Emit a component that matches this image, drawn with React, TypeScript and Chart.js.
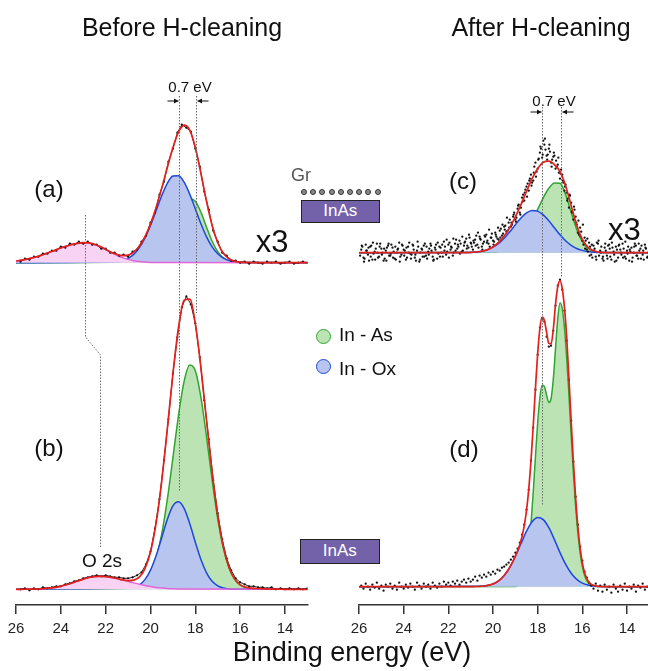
import React, { useEffect, useRef } from "react";
import { Chart, registerables } from "chart.js";
Chart.register(...registerables);

const FONT = '"Liberation Sans", Arial, Helvetica, sans-serif';

// ---------- axis ----------
const tickEnergies = [26, 24, 22, 20, 18, 16, 14];

// ---------- panel (a): before, x3 ----------
const aOxStart = 21.5; // step 0.25 eV
const aInOx = [0.9, 2.0, 4.3, 8.3, 14.8, 24.5, 37.2, 52.0, 66.9, 79.4, 86.6, 87.0, 80.5, 68.6, 53.8, 38.9, 25.8, 15.8, 8.9, 4.6, 2.2, 1.0, 0.3];
const aAsStart = 20.0;
const aInAs = [1.1, 3.1, 7.5, 15.8, 28.4, 43.5, 57.0, 64.0, 61.5, 50.5, 35.5, 21.4, 11.0, 4.8, 1.8, 0.6, 0.2];
const aO2sStart = 26.0;
const aO2s = [1.7, 2.5, 3.6, 5.0, 6.5, 8.4, 10.4, 12.6, 14.7, 16.6, 18.2, 19.4, 20.0, 19.8, 18.5, 16.2, 13.3, 10.3, 7.5, 5.1, 3.3, 2.0, 1.1, 0.6, 0.3, 0.1];
const aFit = [
  1.7, 2.5, 3.6, 5.0,
  6.5, 8.4, 10.4, 12.6,
  14.7, 16.6, 18.2, 19.4,
  20.0, 19.8, 18.5, 16.2,
  13.3, 10.3, 8.4, 7.1,
  7.6, 10.6, 16.4, 25.9,
  38.6, 55.2, 74.4, 95.2,
  115.0, 130.5, 137.5, 132.6,
  115.3, 89.4, 61.3, 37.2,
  19.9, 9.4, 4.0, 1.6,
  0.5, 0.3, 0.2, 0.1,
  0, 0, 0, 0,
  0, 0, 0, 0,
  0,
]; // 26 -> 13, step 0.25
const aData = [
  1, 4, 3, 6, 6, 9, 9, 12, 12, 16,
  15, 19, 18, 21, 19, 21, 18, 18, 14, 14,
  10, 10, 7, 8, 6, 11, 13, 21, 27, 40,
  50, 68, 81, 101, 114, 130, 138, 135, 131, 114,
  96, 71, 53, 32, 21, 10, 7, 2, 2, 0,
  1, -1, 1, 0, -1, 1, 0, 1, -1, 0,
  1, -1, 0, 1, 0,
]; // 25.8 -> 13.0, step 0.2

// ---------- panel (b): before ----------
const bOxStart = 20.75;
const bInOx = [1.7, 4.3, 9.7, 19.2, 33.5, 51.6, 69.9, 83.4, 87.5, 80.9, 65.8, 47.1, 29.7, 16.5, 8.0, 3.5, 1.3, 0.4, 0.1];
const bAsStart = 20.75;
const bInAs = [1.1, 2.8, 6.9, 15.3, 30.7, 55.1, 89.6, 131.4, 174.0, 207.9, 224.3, 218.5, 191.9, 152.3, 109.1, 70.4, 41.1, 21.6, 10.3, 4.4, 1.7, 0.6, 0.2];
const bO2sStart = 25.0;
const bO2s = [0.3, 0.6, 1.2, 1.9, 3.1, 4.5, 6.3, 8.3, 10.2, 11.8, 12.7, 13.0, 12.7, 11.9, 10.8, 9.4, 7.9, 6.4, 5.0, 3.8, 2.7, 1.9, 1.3, 0.8, 0.5, 0.3, 0.2];
const bFit = [
  0, 0, 0.1, 0.2,
  0.3, 0.6, 1.2, 1.9,
  3.1, 4.5, 6.3, 8.3,
  10.2, 11.8, 12.7, 13.0,
  12.7, 11.9, 10.8, 9.4,
  8.7, 9.2, 12.1, 20.4,
  37.2, 66.1, 108.0, 160.3,
  215.3, 261.8, 289.0, 290.1,
  265.6, 221.6, 168.8, 117.1,
  73.9, 42.4, 22.0, 10.4,
  4.4, 2.2, 1.2, 0.8,
  0.5, 0.3, 0.2, 0.1,
  0, 0, 0, 0,
  0,
];
const bData = [
  0, 1, -1, 1, 0, 2, 1, 2, 3, 3,
  5, 6, 8, 9, 11, 12, 13, 14, 13, 14,
  13, 12, 12, 11, 11, 12, 14, 17, 25, 38,
  61, 90, 129, 170, 216, 252, 282, 293, 285, 266,
  232, 189, 150, 109, 76, 50, 31, 19, 11, 7,
  5, 3, 3, 2, 2, 1, 2, 0, 1, 0,
  1, 0, 1, 0, 1,
];

// ---------- panel (c): after, x3 ----------
const cOxStart = 21.0;
const cInOx = [0.3, 0.7, 1.5, 3.0, 5.5, 9.3, 14.5, 20.9, 28.0, 34.7, 39.8, 42.3, 41.6, 37.8, 31.9, 24.9, 17.9, 12.0, 7.4, 4.2, 2.3, 1.1, 0.5, 0.2];
const cAsStart = 20.0;
const cInAs = [0.4, 1.0, 2.1, 4.2, 7.8, 13.4, 21.4, 31.7, 43.4, 54.9, 64.4, 69.8, 69.4, 58.2, 40.4, 23.3, 11.1, 4.4, 1.4, 0.4, 0.1];
const cFit = [
  0, 0, 0, 0,
  0, 0, 0, 0,
  0, 0, 0, 0,
  0, 0, 0, 0,
  0, 0, 0, 0.1,
  0.3, 0.7, 1.5, 3.0,
  5.9, 10.3, 16.6, 25.1,
  35.8, 48.1, 61.2, 74.0,
  84.0, 90.5, 91.5, 88.0,
  81.0, 67.0, 47.0, 27.5,
  13.4, 5.5, 1.9, 0.6,
  0.1, 0, 0, 0,
  0, 0, 0, 0,
  0,
];
const cScan1 = [
  3, -5, 8, -2, 6, -7, 1, 9, -4, 4,
  -8, 2, 7, -3, 5, -6, 0, 10, -2, 3,
  -7, 6, -1, 8, -5, 2, -9, 4, 7, -3,
  1, 9, -4, 5, -6, 6, 0, 11, -2, 8,
  3, -3, 9, 4, 12, 1, 7, 14, 5, 10,
  3, 13, 8, 16, 6, 11, 18, 9, 15, 12,
  20, 14, 22, 17, 26, 21, 30, 26, 36, 33,
  44, 40, 55, 52, 66, 62, 78, 72, 90, 84,
  100, 95, 108, 97, 104, 90, 96, 84, 88, 74,
  78, 62, 60, 45, 50, 33, 36, 20, 25, 12,
  15, 3, 10, -2, 7, -4, 9, 2, -6, 5,
  -3, 8, -7, 1, 6, -5, 3, 9, -4, 2,
  -8, 5, 0, 7, -6, 4, -2, 8, -5, 3,
]; // 25.9 -> 13.0, step 0.1
const cScan2 = [
  -3, 6, -6, 2, -8, 7, -1, 4, -5, 9,
  0, -6, 5, -3, 8, 1, -7, 4, -4, 7,
  2, -5, 10, -2, 3, -8, 6, 0, -4, 9,
  -6, 4, 2, -7, 8, -1, 5, -4, 6, 1,
  10, 5, 0, 13, 6, 9, 2, 11, 7, 15,
  6, 10, 17, 5, 13, 9, 16, 12, 6, 19,
  11, 16, 13, 24, 19, 27, 22, 33, 28, 40,
  35, 48, 45, 58, 63, 69, 74, 70, 86, 81,
  94, 104, 112, 103, 98, 101, 93, 97, 86, 80,
  83, 70, 68, 54, 57, 40, 43, 28, 18, 21,
  8, 12, 1, 6, -5, 4, 10, -3, 6, -8,
  2, 7, -4, 5, -9, 3, 8, -2, 4, -6,
  6, 1, -5, 9, -3, 2, 7, -7, 4, 0,
]; // 25.95 -> 13.05, step 0.1
const cScan3 = [
  7, -9, 2, 5, -4, 10, -7, 0, 6, -2,
  4, -8, 9, -1, -5, 6, 3, -9, 8, -3,
  5, 0, -6, 7, -2, 11, -7, 3, -4, 6,
  -2, 7, -8, 3, 10, -4, 8, 2, 13, -5,
  6, 14, 2, 8, -1, 16, 10, 4, 18, 9,
  12, 7, 20, 14, 3, 17, 10, 23, 15, 8,
  18, 25, 15, 28, 23, 35, 25, 30, 38, 31,
  47, 38, 51, 60, 56, 72, 67, 80, 76, 93,
  106, 98, 114, 93, 108, 86, 100, 92, 95, 79,
  72, 66, 52, 58, 41, 46, 30, 32, 16, 28,
  4, 14, -3, 8, 2, -7, 12, 0, -4, 9,
  -6, 4, 10, -2, -8, 7, 0, -5, 11, -1,
  3, -9, 6, -3, 9, -6, 2, 5, -4, 7,
]; // 25.875 -> 12.975, step 0.1

// ---------- panel (d): after ----------
const dOxStart = 20.5;
const dInOx = [0.5, 1.2, 2.8, 5.9, 11.2, 19.3, 30.2, 42.9, 55.5, 65.0, 69.3, 67.1, 59.0, 47.1, 34.1, 22.5, 13.4, 7.3, 3.6, 1.6, 0.7, 0.3];
const dAsStart = 19.0; // step 0.1
const dInAs = [
  0.3, 0.7, 2.0, 4.7, 10.4, 20.7, 37.6, 62.3, 94.1, 129.7,
  163.8, 189.2, 201.5, 200.4, 191.5, 184.3, 188.2, 207.6, 238.1, 268.3,
  284.0, 278.0, 258.8, 228.7, 191.6, 151.7, 113.6, 80.3, 53.8, 34.0,
  20.3, 11.5, 6.1, 3.1, 1.5, 0.7, 0.3,
];
const dFitStart = 21.0; // step 0.1
const dFit = [
  0.1, 0.1, 0.2, 0.2, 0.3, 0.5, 0.7, 1.0, 1.5, 2.0,
  2.8, 3.8, 5.1, 6.8, 8.8, 11.2, 14.1, 17.5, 21.5, 25.8,
  30.5, 35.9, 42.3, 50.2, 61.0, 76.2, 97.4, 125.8, 160.5, 198.1,
  233.1, 258.4, 269.5, 266.3, 254.3, 243.3, 242.7, 257.2, 282.6, 300.0,
  306.0, 298.0, 279.0, 249.2, 208.3, 165.1, 124.3, 88.6, 60.2, 38.8,
  23.9, 14.2, 8.1, 4.5, 2.5, 1.4, 0.8, 0.4, 0.2, 0.1,
  0,
];
const dData = [
  1, -2, 3, 0, -3, 2, -1, 4, -2, 1,
  -4, 2, 0, 3, -2, 1, -3, 4, 0, -2,
  2, -1, 3, 0, -3, 4, 1, -2, 3, 0,
  2, -2, 4, 1, -1, 3, 0, 5, 2, 4,
  1, 5, 3, 6, 2, 5, 7, 4, 8, 5,
  7, 10, 6, 11, 9, 12, 10, 14, 12, 15,
  13, 17, 16, 19, 20, 22, 24, 27, 30, 34,
  38, 44, 52, 62, 77, 97, 126, 159, 197, 232,
  259, 268, 265, 250, 240, 241, 256, 281, 301, 307,
  297, 276, 246, 207, 166, 125, 90, 62, 40, 26,
  15, 9, 4, 1, -2, 3, -4, 1, -5, 2,
  -3, 0, -6, 2, -2, -5, 1, -3, 3, -4,
  0, -2, 2, -5, 1, -1, 3, -3, 0, -2,
]; // 25.9 -> 13.0, step 0.1

// ---------- styling ----------
const GREEN_LINE = "#2fa52f";
const GREEN_FILL = "#bce3b4";
const BLUE_LINE = "#1f48d8";
const BLUE_FILL = "#b8c6ef";
const PINK_LINE = "#e066d8";
const PINK_FILL = "#f8d3f3";
const RED = "#e3201c";

type P = { x: number; y: number };
const pts = (start: number, step: number, vals: number[], off: number): P[] =>
  vals.map((v, i) => ({ x: Math.round((start - i * step) * 1000) / 1000, y: v + off }));
const pad = (p: P[], off: number): P[] => {
  const out = [...p];
  if (out[0].x < 26) out.unshift({ x: 26, y: off });
  if (out[out.length - 1].x > 13) out.push({ x: 12.9, y: off });
  return out;
};

const comp = (p: P[], line: string, fill: string, off: number, order: number) => ({
  data: pad(p, off),
  borderColor: line,
  backgroundColor: fill,
  borderWidth: 1.5,
  fill: { value: off },
  pointRadius: 0,
  cubicInterpolationMode: "monotone",
  order,
});
const fitSet = (p: P[], off: number) => ({
  data: pad(p, off),
  borderColor: RED,
  borderWidth: 1.7,
  fill: false,
  pointRadius: 0,
  cubicInterpolationMode: "monotone",
  order: 0,
});
const dataSet = (p: P[], line: boolean) => ({
  data: p,
  showLine: line,
  borderColor: "rgba(0,0,0,0.85)",
  borderWidth: 1,
  tension: 0,
  pointRadius: 1.15,
  pointBackgroundColor: "#111",
  pointBorderWidth: 0,
  fill: false,
  order: 1,
});

const A_OFF = 342.3, B_OFF = 15.7, C_OFF = 352.3, D_OFF = 18.3;

const leftSets = [
  fitSet(pts(26, 0.25, aFit, A_OFF), A_OFF),
  dataSet(pts(25.8, 0.2, aData, A_OFF), true),
  comp(pts(aO2sStart, 0.25, aO2s, A_OFF), PINK_LINE, PINK_FILL, A_OFF, 2),
  comp(pts(aOxStart, 0.25, aInOx, A_OFF), BLUE_LINE, BLUE_FILL, A_OFF, 3),
  comp(pts(aAsStart, 0.25, aInAs, A_OFF), GREEN_LINE, GREEN_FILL, A_OFF, 4),
  fitSet(pts(26, 0.25, bFit, B_OFF), B_OFF),
  dataSet(pts(25.8, 0.2, bData, B_OFF), true),
  comp(pts(bO2sStart, 0.25, bO2s, B_OFF), PINK_LINE, PINK_FILL, B_OFF, 2),
  comp(pts(bOxStart, 0.25, bInOx, B_OFF), BLUE_LINE, BLUE_FILL, B_OFF, 3),
  comp(pts(bAsStart, 0.25, bInAs, B_OFF), GREEN_LINE, GREEN_FILL, B_OFF, 4),
];

const rightSets = [
  fitSet(pts(26, 0.25, cFit, C_OFF), C_OFF),
  dataSet(pts(25.9, 0.1, cScan1, C_OFF), false),
  dataSet(pts(25.95, 0.1, cScan2, C_OFF), false),
  dataSet(pts(25.875, 0.1, cScan3, C_OFF), false),
  comp(pts(cOxStart, 0.25, cInOx, C_OFF), BLUE_LINE, BLUE_FILL, C_OFF, 3),
  comp(pts(cAsStart, 0.25, cInAs, C_OFF), GREEN_LINE, GREEN_FILL, C_OFF, 4),
  fitSet(pts(dFitStart, 0.1, dFit, D_OFF), D_OFF),
  dataSet(pts(25.9, 0.1, dData, D_OFF), false),
  comp(pts(dOxStart, 0.25, dInOx, D_OFF), BLUE_LINE, BLUE_FILL, D_OFF, 3),
  comp(pts(dAsStart, 0.1, dInAs, D_OFF), GREEN_LINE, GREEN_FILL, D_OFF, 4),
];

type Annot = {
  dotted: [number, number][][];
  arrows: { e: number; v: number; dir: number }[];
};

const leftAnnot: Annot = {
  dotted: [
    [[18.72, 509], [18.72, 113]],
    [[17.97, 509], [17.97, 292]],
    [[22.92, 390], [22.92, 268], [22.27, 250], [22.27, 58]],
  ],
  arrows: [
    { e: 18.72, v: 504, dir: 1 },
    { e: 17.97, v: 504, dir: -1 },
  ],
};
const rightAnnot: Annot = {
  dotted: [
    [[17.79, 498], [17.79, 100]],
    [[16.97, 498], [16.97, 327]],
  ],
  arrows: [
    { e: 17.79, v: 493, dir: 1 },
    { e: 16.97, v: 493, dir: -1 },
  ],
};

const annotPlugin = (cfg: Annot) => ({
  id: "annot",
  afterDatasetsDraw(chart: any) {
    const { ctx } = chart;
    const xs = chart.scales.x;
    const ys = chart.scales.y;
    ctx.save();
    ctx.strokeStyle = "#6a6a6a";
    ctx.lineWidth = 1;
    ctx.setLineDash([1.5, 1.5]);
    for (const path of cfg.dotted) {
      ctx.beginPath();
      path.forEach(([e, v], i) => {
        const X = Math.round(xs.getPixelForValue(e)) + 0.5;
        const Y = ys.getPixelForValue(v);
        if (i === 0) ctx.moveTo(X, Y);
        else ctx.lineTo(X, Y);
      });
      ctx.stroke();
    }
    ctx.setLineDash([]);
    ctx.strokeStyle = "#111";
    ctx.fillStyle = "#111";
    for (const a of cfg.arrows) {
      const tx = Math.round(xs.getPixelForValue(a.e)) + 0.5 - a.dir * 1;
      const ty = ys.getPixelForValue(a.v);
      ctx.beginPath();
      ctx.moveTo(tx - a.dir * 11, ty);
      ctx.lineTo(tx, ty);
      ctx.stroke();
      ctx.beginPath();
      ctx.moveTo(tx, ty);
      ctx.lineTo(tx - a.dir * 4.5, ty - 2.5);
      ctx.lineTo(tx - a.dir * 4.5, ty + 2.5);
      ctx.closePath();
      ctx.fill();
    }
    ctx.restore();
  },
});

function Column(props: {
  left: number;
  width: number;
  padLeft: number;
  padRight: number;
  xMin: number;
  datasets: any[];
  annot: Annot;
}) {
  const ref = useRef<HTMLCanvasElement>(null);
  useEffect(() => {
    const chart = new Chart(ref.current as HTMLCanvasElement, {
      type: "line",
      data: { datasets: props.datasets as any },
      options: {
        animation: false,
        responsive: false,
        maintainAspectRatio: false,
        events: [],
        layout: {
          autoPadding: false,
          padding: { top: 40, bottom: 27, left: props.padLeft, right: props.padRight },
        },
        plugins: {
          legend: { display: false },
          tooltip: { enabled: false },
          title: { display: false },
        },
        scales: {
          x: {
            type: "linear",
            reverse: true,
            min: props.xMin,
            max: 26,
            afterBuildTicks: (s: any) => {
              s.ticks = tickEnergies.map((v) => ({ value: v }));
            },
            grid: {
              display: true,
              drawOnChartArea: false,
              drawTicks: true,
              tickLength: 9,
              color: "#333",
              lineWidth: 1.5,
            },
            border: { display: true, color: "#333", width: 1.5 },
            ticks: {
              color: "#222",
              font: { family: FONT, size: 15 },
              padding: 6,
              maxRotation: 0,
              autoSkip: false,
            },
          },
          y: { display: false, min: 0, max: 565 },
        },
      } as any,
      plugins: [annotPlugin(props.annot)],
    });
    return () => chart.destroy();
  }, []);
  return (
    <canvas
      ref={ref}
      width={props.width}
      height={671}
      style={{ position: "absolute", left: props.left, top: 0, width: props.width, height: 671 }}
    />
  );
}

function T(props: { x: number; y: number; size: number; text: string; color?: string; left?: boolean }) {
  return (
    <div
      style={{
        position: "absolute",
        left: props.x,
        top: props.y,
        transform: props.left ? "translate(0,-50%)" : "translate(-50%,-50%)",
        fontFamily: FONT,
        fontSize: props.size,
        color: props.color || "#111",
        whiteSpace: "nowrap",
        lineHeight: 1,
      }}
    >
      {props.text}
    </div>
  );
}

function InAsBox(props: { x: number; y: number; w: number; h: number }) {
  return (
    <div
      style={{
        position: "absolute",
        left: props.x,
        top: props.y,
        width: props.w,
        height: props.h,
        boxSizing: "border-box",
        background: "#7361a9",
        border: "1.5px solid #222",
        color: "#fff",
        fontFamily: FONT,
        fontSize: 17,
        display: "flex",
        alignItems: "center",
        justifyContent: "center",
      }}
    >
      InAs
    </div>
  );
}

function Dot(props: { x: number; y: number; r: number; fill: string; stroke: string; bw: number }) {
  return (
    <div
      style={{
        position: "absolute",
        left: props.x - props.r,
        top: props.y - props.r,
        width: props.r * 2,
        height: props.r * 2,
        boxSizing: "border-box",
        borderRadius: "50%",
        background: props.fill,
        border: `${props.bw}px solid ${props.stroke}`,
      }}
    />
  );
}

const grDots = [0, 1, 2, 3, 4, 5, 6, 7, 8];

export default function App() {
  return (
    <div
      style={{
        position: "fixed",
        left: 0,
        top: 0,
        width: 648,
        height: 671,
        background: "#fff",
        overflow: "hidden",
      }}
    >
      <Column left={0} width={330} padLeft={16} padRight={22.6} xMin={13} datasets={leftSets} annot={leftAnnot} />
      <Column left={330} width={318} padLeft={29} padRight={0} xMin={13.06} datasets={rightSets} annot={rightAnnot} />

      <T x={182} y={27} size={25} text="Before H-cleaning" />
      <T x={541} y={27} size={25} text="After H-cleaning" />

      <T x={190} y={86} size={15} text="0.7 eV" />
      <T x={554} y={100} size={15} text="0.7 eV" />

      <T x={49} y={189} size={24} text="(a)" />
      <T x={49} y={448} size={24} text="(b)" />
      <T x={463} y={181} size={24} text="(c)" />
      <T x={464} y={449} size={24} text="(d)" />

      <T x={272} y={241} size={31} text="x3" />
      <T x={608} y={229} size={31} text="x3" left />

      <T x={102} y={560} size={19} text="O 2s" />

      <T x={301} y={175} size={18} text="Gr" color="#555" />
      {grDots.map((i) => (
        <Dot key={i} x={304 + i * 9.2} y={192.3} r={3} fill="#8a8a8a" stroke="#333" bw={1} />
      ))}
      <InAsBox x={301} y={199.5} w={78.5} h={23.5} />
      <InAsBox x={300} y={538.5} w={79.5} h={25} />

      <Dot x={323} y={336.5} r={7.5} fill={GREEN_FILL} stroke={GREEN_LINE} bw={1.6} />
      <Dot x={323} y={366.5} r={7.5} fill={BLUE_FILL} stroke={BLUE_LINE} bw={1.6} />
      <T x={339} y={334} size={19} text="In - As" left />
      <T x={339} y={368} size={19} text="In - Ox" left />

      <T x={352} y={652} size={27} text="Binding energy (eV)" />
    </div>
  );
}
